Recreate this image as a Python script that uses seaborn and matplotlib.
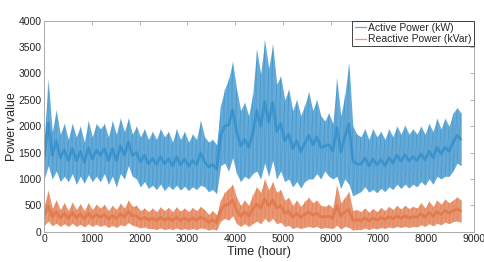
import numpy as np
import pandas as pd
import matplotlib
matplotlib.use("Agg")
import matplotlib.pyplot as plt
from matplotlib.lines import Line2D
import seaborn as sns

# samples every half week (84 h): upper / lower envelope
hours = np.arange(0, 8737, 84)

active_hi = [1800, 2870, 1900, 2300, 1850, 2050, 1750, 2050, 1800, 2000, 1700, 2100, 1800, 2050,
             1950, 2050, 1800, 2100, 1850, 2150, 1900, 2150, 1850, 2000, 1800, 1950, 1750,
             1900, 1750, 1950, 1800, 1900, 1700, 1950, 1750, 1900, 1700, 1850, 1750, 2110,
             1800, 1700, 1750, 1650,
             2400, 2700, 2900, 3220, 2700, 2300, 2450, 2200, 2600,
             3450, 3000, 3630, 3100, 3550, 2800, 2950, 2500, 2700, 2300, 2500, 2200, 2400, 2650,
             2300, 2500, 2200, 2100, 2250, 2050, 2900, 2200, 2600, 3190, 2000, 1850,
             1800, 1950, 1750, 1950, 1800, 1900, 1750, 1950, 1800, 2000, 1850, 2020, 1850, 1950,
             1850, 2000, 1850, 2050, 1900, 2150, 1950, 2150, 2000, 2250, 2350, 2250]
active_lo = [1000, 1250, 1000, 1150, 950, 1050, 950, 1100, 900, 1050, 920, 1080, 950, 1050,
             950, 1100, 900, 1050, 850, 1100, 1000, 1250, 1050, 1000, 850, 950, 820,
             880, 800, 900, 780, 870, 800, 880, 790, 860, 780, 850, 800, 880,
             850, 760, 800, 720,
             1250, 1300, 1150, 1400, 1100, 950, 1050, 1000, 1100,
             1150, 1000, 1300, 1050, 1350, 1000, 1150, 950, 1000, 850, 950, 830, 950, 1000,
             1000, 1100, 1000, 1150, 1050, 1000, 1050, 820, 1000, 900, 680, 720,
             760, 850, 750, 800, 740, 820, 760, 850, 800, 900, 820, 900, 830, 900,
             850, 950, 880, 1000, 900, 1050, 1000, 1050, 1050, 1150, 1300, 1250]

reactive_hi = [500, 780, 450, 600, 420, 550, 400, 560, 420, 530, 400, 550, 420, 520,
               450, 520, 400, 500, 420, 540, 450, 600, 480, 500, 400, 450, 380,
               450, 380, 470, 400, 460, 380, 470, 390, 450, 380, 460, 400, 480,
               420, 330, 400, 320,
               600, 750, 820, 900, 650, 500, 600, 500, 700,
               850, 750, 1000, 800, 950, 750, 800, 600, 650, 500, 600, 480, 580, 650,
               550, 600, 500, 480, 520, 450, 880, 550, 650, 760, 400, 420,
               380, 450, 370, 440, 380, 460, 400, 480, 420, 500, 430, 500, 440, 480,
               450, 550, 450, 580, 480, 600, 520, 620, 550, 600, 660, 600]
reactive_lo = [120, 200, 110, 160, 100, 150, 100, 160, 100, 140, 90, 150, 100, 140,
               100, 130, 80, 120, 80, 130, 110, 170, 120, 100, 70, 90, 60,
               60, 40, 70, 40, 60, 40, 70, 40, 60, 40, 60, 40, 70,
               60, 30, 50, 30,
               200, 250, 220, 300, 150, 100, 150, 100, 150,
               200, 150, 250, 180, 250, 150, 180, 100, 120, 60, 90, 60, 80, 100,
               80, 100, 60, 80, 70, 60, 120, 50, 100, 80, 30, 40,
               40, 70, 40, 70, 50, 80, 60, 90, 70, 100, 80, 100, 80, 100,
               90, 130, 100, 150, 110, 160, 130, 180, 150, 190, 200, 180]

labels = ["Active Power (kW)", "Reactive Power (kVar)"]
colors = ["#0072BD", "#D95319"]

rows = []
for name, hi, lo in [(labels[0], active_hi, active_lo), (labels[1], reactive_hi, reactive_lo)]:
    for t, h, l in zip(hours, hi, lo):
        rows.append((t, h, name))
        rows.append((t, l, name))
df = pd.DataFrame(rows, columns=["hour", "value", "series"])

sns.set_style("white")
plt.rcParams["font.family"] = ["Liberation Sans", "DejaVu Sans"]

fig = plt.figure(figsize=(4.85, 2.62), dpi=100)
ax = fig.add_axes([0.0913, 0.1156, 0.8854, 0.8054])

for name, c in zip(labels, colors):
    sub = df[df["series"] == name]
    # min-max band plus a soft mean line for the darker centre
    sns.lineplot(data=sub, x="hour", y="value", estimator="mean", errorbar=("pi", 100),
                 color=c, lw=2.0, alpha=0.35, err_kws={"alpha": 0.6, "linewidth": 0}, ax=ax)
    # faint zigzag through the envelope values
    sns.lineplot(data=sub, x="hour", y="value", estimator=None, sort=False,
                 color=c, lw=0.3, alpha=0.35, ax=ax)

ax.set_xlim(0, 9000)
ax.set_ylim(0, 4000)
ax.set_xticks(range(0, 9001, 1000))
ax.set_yticks(range(0, 4001, 500))
ax.set_xlabel("Time (hour)", fontsize=9, color="#262626", labelpad=1)
ax.set_ylabel("Power value", fontsize=9, color="#262626", labelpad=0)
ax.tick_params(direction="in", length=3, width=0.6, colors="#aaaaaa", labelcolor="#262626",
               labelsize=7.5, top=True, right=True, pad=2)
for s in ax.spines.values():
    s.set_color("#aaaaaa")
    s.set_linewidth(0.7)

handles = [Line2D([], [], color=c, lw=0.9, alpha=0.6) for c in colors]
leg = ax.legend(handles, labels, loc="upper right", fontsize=7.5, frameon=True, fancybox=False,
                edgecolor="#262626", framealpha=1, borderaxespad=0, borderpad=0.2,
                handlelength=1.1, handletextpad=0.2, labelspacing=0.15)
leg.get_frame().set_linewidth(0.6)

fig.savefig("out.png", dpi=100)
